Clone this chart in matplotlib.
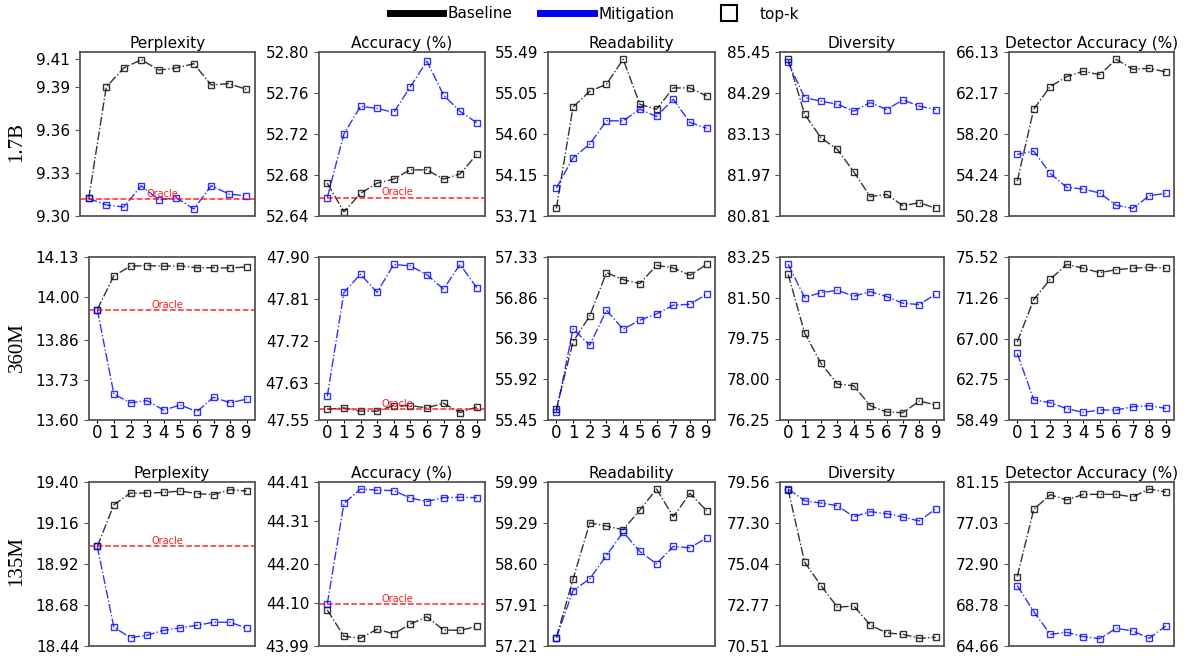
import matplotlib

matplotlib.use("Agg")
import matplotlib.pyplot as plt
import numpy as np
from matplotlib.lines import Line2D

# ---- data ----
steps = list(range(10))
metrics = ["Perplexity", "Accuracy (%)", "Readability", "Diversity", "Detector Accuracy (%)"]
models = ["1.7B", "360M", "135M"]

# 1.7B
ppl_17b_base = [9.3123, 9.3902, 9.4035, 9.4093, 9.4021, 9.4035, 9.4065, 9.3916, 9.3926, 9.3886]
ppl_17b_mit = [9.3123, 9.3077, 9.3063, 9.3212, 9.3112, 9.3128, 9.3049, 9.3212, 9.3154, 9.3140]
acc_17b_base = [52.672, 52.644, 52.662, 52.672, 52.676, 52.685, 52.685, 52.676, 52.681, 52.700]
acc_17b_mit = [52.658, 52.720, 52.747, 52.745, 52.741, 52.766, 52.791, 52.758, 52.742, 52.731]
read_17b_base = [53.793, 54.894, 55.064, 55.140, 55.411, 54.923, 54.869, 55.100, 55.100, 55.013]
read_17b_mit = [54.013, 54.342, 54.490, 54.743, 54.743, 54.869, 54.790, 54.977, 54.725, 54.663]
div_17b_base = [85.243, 83.690, 83.022, 82.692, 82.062, 81.356, 81.422, 81.102, 81.186, 81.026]
div_17b_mit = [85.158, 84.161, 84.057, 83.972, 83.775, 84.020, 83.822, 84.095, 83.916, 83.822]
det_17b_base = [53.656, 60.600, 62.786, 63.751, 64.265, 63.944, 65.423, 64.458, 64.555, 64.201]
det_17b_mit = [56.228, 56.550, 54.395, 53.045, 52.884, 52.498, 51.309, 51.019, 52.241, 52.466]
oracle_17b = [9.3121, 52.658]

# 360M
ppl_360m_base = [13.959, 14.069, 14.100, 14.102, 14.100, 14.101, 14.095, 14.095, 14.094, 14.098]
ppl_360m_mit = [13.959, 13.684, 13.656, 13.663, 13.632, 13.649, 13.627, 13.674, 13.656, 13.668]
acc_360m_base = [47.573, 47.576, 47.569, 47.569, 47.581, 47.581, 47.576, 47.586, 47.566, 47.578]
acc_360m_mit = [47.601, 47.824, 47.863, 47.824, 47.884, 47.881, 47.862, 47.831, 47.884, 47.834]
read_360m_base = [55.577, 56.352, 56.651, 57.150, 57.069, 57.023, 57.234, 57.204, 57.119, 57.246]
read_360m_mit = [55.538, 56.501, 56.313, 56.716, 56.497, 56.601, 56.674, 56.774, 56.785, 56.900]
div_360m_base = [82.507, 79.993, 78.679, 77.793, 77.721, 76.864, 76.593, 76.564, 77.064, 76.893]
div_360m_mit = [82.936, 81.507, 81.721, 81.821, 81.564, 81.764, 81.550, 81.264, 81.207, 81.664]
det_360m_base = [66.657, 71.071, 73.191, 74.755, 74.338, 73.886, 74.199, 74.338, 74.443, 74.338]
det_360m_mit = [65.441, 60.610, 60.297, 59.672, 59.289, 59.533, 59.533, 59.880, 59.984, 59.706]
oracle_360m = [13.958, 47.573]

# 135M
ppl_135m_base = [19.023, 19.267, 19.335, 19.335, 19.339, 19.347, 19.332, 19.326, 19.355, 19.347]
ppl_135m_mit = [19.023, 18.549, 18.489, 18.503, 18.532, 18.546, 18.561, 18.579, 18.579, 18.544]
acc_135m_base = [44.082, 44.015, 44.010, 44.033, 44.021, 44.046, 44.065, 44.031, 44.030, 44.040]
acc_135m_mit = [44.098, 44.355, 44.392, 44.389, 44.388, 44.369, 44.360, 44.370, 44.371, 44.370]
read_135m_base = [57.352, 58.342, 59.299, 59.243, 59.180, 59.514, 59.871, 59.401, 59.797, 59.503]
read_135m_mit = [57.352, 58.150, 58.348, 58.744, 59.141, 58.812, 58.603, 58.897, 58.875, 59.044]
div_135m_base = [79.136, 75.136, 73.846, 72.648, 72.722, 71.671, 71.229, 71.155, 70.934, 70.989]
div_135m_mit = [79.173, 78.528, 78.399, 78.251, 77.643, 77.920, 77.809, 77.625, 77.404, 78.086]
det_135m_base = [71.646, 78.396, 79.874, 79.337, 79.908, 79.908, 79.908, 79.639, 80.445, 80.143]
det_135m_mit = [70.739, 68.119, 65.835, 66.037, 65.600, 65.399, 66.440, 66.171, 65.432, 66.675]
oracle_135m = [19.023, 44.098]

# y tick labels per panel
yticks_17b = [
    ["9.30", "9.33", "9.36", "9.39", "9.41"],
    ["52.64", "52.68", "52.72", "52.76", "52.80"],
    ["53.71", "54.15", "54.60", "55.05", "55.49"],
    ["80.81", "81.97", "83.13", "84.29", "85.45"],
    ["50.28", "54.24", "58.20", "62.17", "66.13"],
]
yticks_360m = [
    ["13.60", "13.73", "13.86", "14.00", "14.13"],
    ["47.55", "47.63", "47.72", "47.81", "47.90"],
    ["55.45", "55.92", "56.39", "56.86", "57.33"],
    ["76.25", "78.00", "79.75", "81.50", "83.25"],
    ["58.49", "62.75", "67.00", "71.26", "75.52"],
]
yticks_135m = [
    ["18.44", "18.68", "18.92", "19.16", "19.40"],
    ["43.99", "44.10", "44.20", "44.31", "44.41"],
    ["57.21", "57.91", "58.60", "59.29", "59.99"],
    ["70.51", "72.77", "75.04", "77.30", "79.56"],
    ["64.66", "68.78", "72.90", "77.03", "81.15"],
]
ppl_17b_ytop = 9.4147  # top of the 1.7B perplexity axis sits above the last tick

rows = [
    ([ppl_17b_base, acc_17b_base, read_17b_base, div_17b_base, det_17b_base],
     [ppl_17b_mit, acc_17b_mit, read_17b_mit, div_17b_mit, det_17b_mit],
     oracle_17b, yticks_17b),
    ([ppl_360m_base, acc_360m_base, read_360m_base, div_360m_base, det_360m_base],
     [ppl_360m_mit, acc_360m_mit, read_360m_mit, div_360m_mit, det_360m_mit],
     oracle_360m, yticks_360m),
    ([ppl_135m_base, acc_135m_base, read_135m_base, div_135m_base, det_135m_base],
     [ppl_135m_mit, acc_135m_mit, read_135m_mit, div_135m_mit, det_135m_mit],
     oracle_135m, yticks_135m),
]

# ---- layout (pixels) ----
W, H = 1189, 660
col_right = [255, 485, 715, 944, 1174]
col_left = [[80, 319, 548, 780, 1009], [89, 319, 548, 780, 1009], [89, 319, 548, 780, 1009]]
row_top = [52, 257, 482]
row_bottom = [216, 420, 646]
label_y = [142, 347, 561]

fig = plt.figure(figsize=(W / 100, H / 100), dpi=100)

for r, (bases, mits, oracles, ticks) in enumerate(rows):
    for c in range(5):
        l, rr = col_left[r][c], col_right[c]
        t, b = row_top[r], row_bottom[r]
        ax = fig.add_axes([l / W, 1 - b / H, (rr - l) / W, (b - t) / H])

        ax.plot(steps, bases[c], color="black", ls="-.", lw=1, marker="s", ms=5,
                mfc="none", mew=1, alpha=0.8)
        ax.plot(steps, mits[c], color="blue", ls="-.", lw=1, marker="s", ms=5,
                mfc="none", mew=1, alpha=0.8)
        if c < 2:
            ax.axhline(oracles[c], color="red", ls="--", lw=1.1, alpha=0.85)
            ax.annotate("Oracle", (4.2, oracles[c]), xytext=(0, 1.5), textcoords="offset points",
                        ha="center", va="baseline", color="red", fontsize=7, alpha=0.9)

        tick_vals = [float(s) for s in ticks[c]]
        top = ppl_17b_ytop if (r == 0 and c == 0) else tick_vals[-1]
        ax.set_ylim(tick_vals[0], top)
        ax.set_yticks(tick_vals)
        ax.set_yticklabels(ticks[c])
        ax.set_xlim(-0.5, 9.5)
        if r == 1:
            ax.set_xticks(steps)
            ax.tick_params(axis="x", labelsize=12, length=2, pad=1)
        else:
            ax.set_xticks([])
            ax.set_title(metrics[c], fontsize=11, pad=3)
        ax.tick_params(axis="y", labelsize=11, length=3.5, color="#555555")
        for sp in ax.spines.values():
            sp.set_color("#555555")
            sp.set_linewidth(1.3)

    fig.text(17 / W, 1 - label_y[r] / H, models[r], rotation=90, ha="center", va="center",
             family="Liberation Serif", fontsize=15)

handles = [
    Line2D([], [], color="black", lw=5),
    Line2D([], [], color="blue", lw=5),
    Line2D([], [], ls="none", marker="s", ms=11, mfc="none", mec="black", mew=1.5),
]
fig.legend(handles, ["Baseline", "Mitigation", "top-k"], loc="center",
           bbox_to_anchor=(0.5, 1 - 14 / H), ncol=3, frameon=False, fontsize=11,
           handlelength=3.5, handletextpad=0.3, columnspacing=1.8)

fig.savefig("out.png", dpi=100)
